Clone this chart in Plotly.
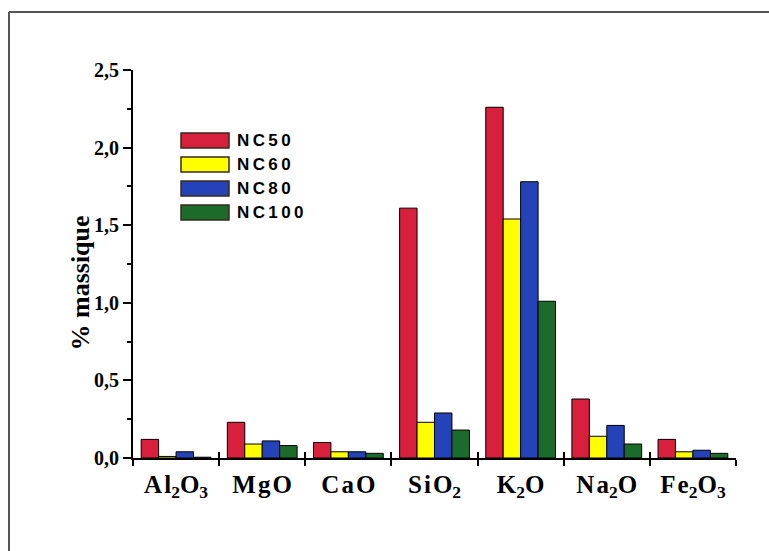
import plotly.graph_objects as go

categories = ["Al<sub>2</sub>O<sub>3</sub>", "MgO", "CaO", "SiO<sub>2</sub>", "K<sub>2</sub>O", "Na<sub>2</sub>O", "Fe<sub>2</sub>O<sub>3</sub>"]
tick_labels = ["A\u200al<sub>2</sub>O<sub>3</sub>", "M\u200ag\u200aO", "C\u200aa\u200aO",
               "S\u200ai\u200aO<sub>2</sub>", "K<sub>2</sub>O",
               "N\u200aa<sub>2</sub>O", "F\u200ae<sub>2</sub>O<sub>3</sub>"]
series_names = ["NC50", "NC60", "NC80", "NC100"]
nc50 = [0.12, 0.23, 0.10, 1.61, 2.26, 0.38, 0.12]
nc60 = [0.01, 0.09, 0.04, 0.23, 1.54, 0.14, 0.04]
nc80 = [0.04, 0.11, 0.04, 0.29, 1.78, 0.21, 0.05]
nc100 = [0.005, 0.08, 0.03, 0.18, 1.01, 0.09, 0.03]
colors = ["#d81f3c", "#ffff00", "#2443b8", "#1b6b2b"]
y_ticks = [0, 0.5, 1.0, 1.5, 2.0, 2.5]

W, H = 769, 551
L, R, T, B = 133, 33, 70, 93
pw, ph = W - L - R, H - T - B

def px(x):
    return (x - L) / pw

def py(y):
    return (H - B - y) / ph

fig = go.Figure()
for name, vals, col in zip(series_names, [nc50, nc60, nc80, nc100], colors):
    fig.add_trace(go.Bar(x=categories, y=vals, name=name,
                         marker=dict(color=col, line=dict(color="black", width=1)), showlegend=False))

# transparent trace on overlay axis (for crossing boundary ticks)
fig.add_trace(go.Bar(x=categories, y=[0] * len(categories), xaxis="x2", showlegend=False,
                     hoverinfo="skip", marker=dict(color="rgba(0,0,0,0)", line=dict(width=0))))

thin = "\u2009"

fig.update_layout(
    width=W, height=H,
    margin=dict(l=L, r=R, t=T, b=B, autoexpand=False),
    paper_bgcolor="white", plot_bgcolor="white",
    barmode="group", bargap=0.19, bargroupgap=0,
    font=dict(family="Liberation Serif", color="black"),
    xaxis=dict(showline=True, linecolor="black", linewidth=2, ticks="outside", tickson="boundaries",
               ticklen=6, tickwidth=2, tickcolor="black", showgrid=False, tickangle=0, automargin=False,
               tickvals=categories, ticktext=["<b>" + c + "</b>" for c in tick_labels],
               tickfont=dict(family="Liberation Serif", size=25, color="black"), ticklabelstandoff=3),
    xaxis2=dict(overlaying="x", matches="x", showline=False, ticks="inside", tickson="boundaries",
                ticklen=6, tickwidth=2, tickcolor="black", showticklabels=False, showgrid=False,
                anchor="y", side="bottom"),
    yaxis=dict(range=[0, 2.5], showline=True, linecolor="black", linewidth=2, ticks="outside",
               ticklen=8, tickwidth=2, tickcolor="black", tickvals=y_ticks, automargin=False,
               ticktext=["<b>" + f"{v:.1f}".replace(".", ",") + "</b>" for v in y_ticks],
               showgrid=False, zeroline=False,
               minor=dict(dtick=0.25, ticks="outside", ticklen=4, tickwidth=1.5, tickcolor="black"),
               tickfont=dict(family="Liberation Serif", size=20, color="black")),
)

shapes = [
    dict(type="line", xref="paper", yref="paper", x0=px(9), x1=px(775), y0=py(12), y1=py(12),
         line=dict(color="#555555", width=2)),
    dict(type="line", xref="paper", yref="paper", x0=px(9), x1=px(9), y0=py(12), y1=py(560),
         line=dict(color="#555555", width=2)),
]
annotations = [dict(text="<b>% massique</b>", textangle=-90,
                    xref="paper", yref="paper", x=px(63), y=py(283), showarrow=False,
                    font=dict(family="Liberation Serif", size=26, color="black"))]

box_tops = [133, 157, 181, 205]
for name, col, top in zip(series_names, colors, box_tops):
    shapes.append(dict(type="rect", xref="paper", yref="paper", x0=px(181), x1=px(229),
                       y0=py(top + 15), y1=py(top), fillcolor=col,
                       line=dict(color="#3a2a1a", width=1.5)))
    annotations.append(dict(text="<b>" + thin.join(name) + "</b>",
                            xref="paper", yref="paper", x=px(235), y=py(top + 7.5),
                            xanchor="left", yanchor="middle", showarrow=False,
                            font=dict(family="Liberation Sans", size=17, color="black")))

fig.update_layout(shapes=shapes, annotations=annotations)
fig.write_html("out.html", config={"displayModeBar": False},
               post_script="document.body.style.margin='0';")
